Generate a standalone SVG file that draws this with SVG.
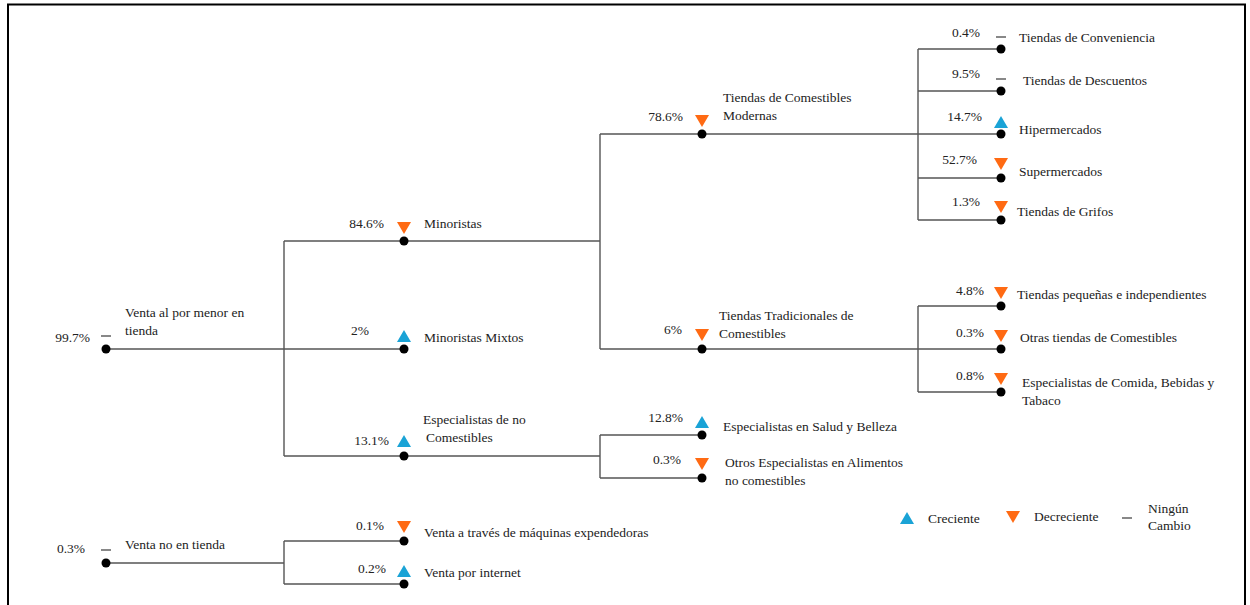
<svg xmlns="http://www.w3.org/2000/svg" width="1250" height="605" viewBox="0 0 1250 605">
<defs>
<style>
text{font-family:'Liberation Serif','Times New Roman','DejaVu Serif',serif;font-size:13.5px;fill:#222}
.ln{stroke:#555;stroke-width:1.4;fill:none}
.dot{fill:#000}
.up{fill:#1AA3D6}
.dn{fill:#FF6A13}
.nc{stroke:#888;stroke-width:2}
.pct{text-anchor:end}
</style>
<polygon id="tu" points="-7,6 7,6 0,-6"/>
<polygon id="td" points="-7,-6 7,-6 0,6"/>
</defs>
<rect x="0" y="0" width="1250" height="605" fill="#fff"/>
<rect x="8" y="4.5" width="1237" height="610" fill="none" stroke="#000" stroke-width="2"/>

<g id="connectors">
<path class="ln" d="M106,349 H404 M284,241 V456 M284,241 H404 M284,456 H404"/>
<path class="ln" d="M404,241 H600 M600,134 V349 M600,134 H702 M600,349 H702"/>
<path class="ln" d="M702,134 H1001 M918,49 V220 M918,49 H1001 M918,91 H1001 M918,178 H1001 M918,220 H1001"/>
<path class="ln" d="M702,349 H1001 M918,306 V392 M918,306 H1001 M918,392 H1001"/>
<path class="ln" d="M404,456 H600 M600,435 V478 M600,435 H702 M600,478 H702"/>
<path class="ln" d="M106,563 H284 M284,541 V584 M284,541 H404 M284,584 H404"/>
</g>

<g id="n-root">
<line class="nc" x1="101" y1="336" x2="111" y2="336"/>
<circle class="dot" cx="106" cy="349" r="4.5"/>
<text x="90" y="342" class="pct">99.7%</text>
<text x="125" y="317">Venta al por menor en</text>
<text x="125" y="335">tienda</text>
</g>

<g id="n-minoristas">
<use href="#td" class="dn" x="404" y="228"/>
<circle class="dot" cx="404" cy="241" r="4.5"/>
<text x="384" y="228" class="pct">84.6%</text>
<text x="424" y="228">Minoristas</text>
</g>

<g id="n-mixtos">
<use href="#tu" class="up" x="404" y="336"/>
<circle class="dot" cx="404" cy="349" r="4.5"/>
<text x="369" y="335" class="pct">2%</text>
<text x="424" y="342">Minoristas Mixtos</text>
</g>

<g id="n-noComestibles">
<use href="#tu" class="up" x="404" y="441"/>
<circle class="dot" cx="404" cy="456" r="4.5"/>
<text x="389" y="445" class="pct">13.1%</text>
<text x="423" y="424">Especialistas de no</text>
<text x="426" y="442">Comestibles</text>
</g>

<g id="n-modernas">
<use href="#td" class="dn" x="702" y="121"/>
<circle class="dot" cx="702" cy="134" r="4.5"/>
<text x="683" y="121" class="pct">78.6%</text>
<text x="723" y="102">Tiendas de Comestibles</text>
<text x="723" y="120">Modernas</text>
</g>

<g id="n-tradicionales">
<use href="#td" class="dn" x="702" y="335"/>
<circle class="dot" cx="702" cy="349" r="4.5"/>
<text x="682" y="334" class="pct">6%</text>
<text x="719" y="320">Tiendas Tradicionales de</text>
<text x="719" y="338">Comestibles</text>
</g>

<g id="n-salud">
<use href="#tu" class="up" x="702" y="422"/>
<circle class="dot" cx="702" cy="435" r="4.5"/>
<text x="683" y="422" class="pct">12.8%</text>
<text x="723" y="431">Especialistas en Salud y Belleza</text>
</g>

<g id="n-otrosEsp">
<use href="#td" class="dn" x="702" y="464"/>
<circle class="dot" cx="702" cy="478" r="4.5"/>
<text x="681" y="464" class="pct">0.3%</text>
<text x="725" y="467">Otros Especialistas en Alimentos</text>
<text x="725" y="485">no comestibles</text>
</g>

<g id="n-conveniencia">
<line class="nc" x1="996" y1="37" x2="1006" y2="37"/>
<circle class="dot" cx="1001" cy="49" r="4.5"/>
<text x="980" y="37" class="pct">0.4%</text>
<text x="1019" y="42">Tiendas de Conveniencia</text>
</g>

<g id="n-descuentos">
<line class="nc" x1="996" y1="79" x2="1006" y2="79"/>
<circle class="dot" cx="1001" cy="91" r="4.5"/>
<text x="980" y="78" class="pct">9.5%</text>
<text x="1023" y="85">Tiendas de Descuentos</text>
</g>

<g id="n-hiper">
<use href="#tu" class="up" x="1001" y="122"/>
<circle class="dot" cx="1001" cy="134" r="4.5"/>
<text x="982" y="121" class="pct">14.7%</text>
<text x="1019" y="134">Hipermercados</text>
</g>

<g id="n-super">
<use href="#td" class="dn" x="1001" y="164"/>
<circle class="dot" cx="1001" cy="178" r="4.5"/>
<text x="977" y="164" class="pct">52.7%</text>
<text x="1019" y="176">Supermercados</text>
</g>

<g id="n-grifos">
<use href="#td" class="dn" x="1001" y="207"/>
<circle class="dot" cx="1001" cy="220" r="4.5"/>
<text x="980" y="206" class="pct">1.3%</text>
<text x="1017" y="216">Tiendas de Grifos</text>
</g>

<g id="n-pequenas">
<use href="#td" class="dn" x="1001" y="293"/>
<circle class="dot" cx="1001" cy="306" r="4.5"/>
<text x="984" y="295" class="pct">4.8%</text>
<text x="1017" y="299">Tiendas pequeñas e independientes</text>
</g>

<g id="n-otrasTiendas">
<use href="#td" class="dn" x="1001" y="336"/>
<circle class="dot" cx="1001" cy="349" r="4.5"/>
<text x="984" y="337" class="pct">0.3%</text>
<text x="1020" y="342">Otras tiendas de Comestibles</text>
</g>

<g id="n-comidaBebidas">
<use href="#td" class="dn" x="1001" y="379"/>
<circle class="dot" cx="1001" cy="392" r="4.5"/>
<text x="984" y="380" class="pct">0.8%</text>
<text x="1022" y="387">Especialistas de Comida, Bebidas y</text>
<text x="1022" y="405">Tabaco</text>
</g>

<g id="n-noTienda">
<line class="nc" x1="101" y1="550" x2="111" y2="550"/>
<circle class="dot" cx="106" cy="563" r="4.5"/>
<text x="85" y="553" class="pct">0.3%</text>
<text x="125" y="549">Venta no en tienda</text>
</g>

<g id="n-maquinas">
<use href="#td" class="dn" x="404" y="527"/>
<circle class="dot" cx="404" cy="541" r="4.5"/>
<text x="384" y="530" class="pct">0.1%</text>
<text x="424" y="537">Venta a través de máquinas expendedoras</text>
</g>

<g id="n-internet">
<use href="#tu" class="up" x="404" y="571"/>
<circle class="dot" cx="404" cy="584" r="4.5"/>
<text x="386" y="573" class="pct">0.2%</text>
<text x="424" y="577">Venta por internet</text>
</g>

<g id="legend">
<use href="#tu" class="up" x="907" y="518"/>
<text x="928" y="523">Creciente</text>
<use href="#td" class="dn" x="1013" y="517"/>
<text x="1034" y="521">Decreciente</text>
<line class="nc" x1="1122" y1="518" x2="1132" y2="518"/>
<text x="1148" y="513">Ningún</text>
<text x="1148" y="530">Cambio</text>
</g>
</svg>
